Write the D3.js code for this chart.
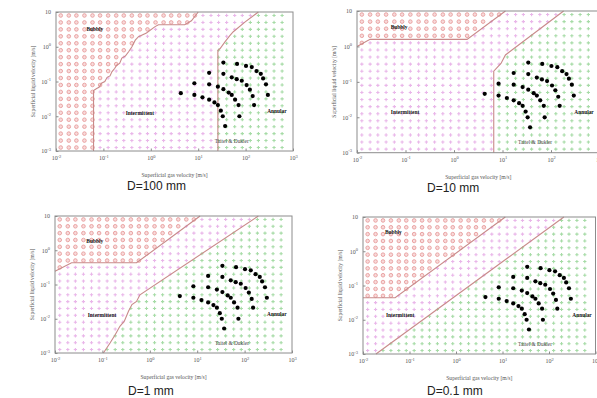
<!DOCTYPE html>
<html>
<head>
<meta charset="utf-8">
<script src="https://cdn.jsdelivr.net/npm/d3@7"></script>
<style>
  body { margin: 0; background: #fff; }
  svg { display: block; }
</style>
</head>
<body>
<svg id="chart" width="597" height="398"></svg>
<script>
// ---- data -------------------------------------------------------------
const panelTitles = ["D=100 mm", "D=10 mm", "D=1 mm", "D=0.1 mm"];

const gasTicks = [0.01, 0.1, 1, 10, 100, 1000];
const gasTickExp = ["-2", "-1", "0", "1", "2", "3"];
const liquidTicks = [10, 1, 0.1, 0.01, 0.001];
const liquidTickExp = ["", "0", "-1", "-2", "-3"];

const regimeNames = ["Bubbly", "Intermittent", "Annular", "Taitel & Dukler"];

// lattice on which the regime map was evaluated (log10 of velocity)
const latticeGasExp = [-1.90, -1.73, -1.57, -1.40, -1.23, -1.07, -0.90, -0.73, -0.57, -0.40,
  -0.23, -0.07, 0.10, 0.27, 0.43, 0.60, 0.77, 0.93, 1.10, 1.27, 1.43, 1.60, 1.77, 1.93,
  2.10, 2.27, 2.43, 2.60, 2.77];
const latticeLiquidExp = [0.9, 0.7, 0.5, 0.3, 0.1, -0.1, -0.3, -0.5, -0.7, -0.9, -1.1,
  -1.3, -1.5, -1.7, -1.9, -2.1, -2.3, -2.5, -2.7, -2.9];

// measured operating points [jG, jL] in m/s, one array per mass flux
const fluxSeries1 = [[34, 0.35], [66, 0.32], [102, 0.28], [135, 0.26], [170, 0.20],
  [209, 0.166], [234, 0.123], [269, 0.083], [295, 0.041]];
const fluxSeries2 = [[17, 0.178], [34, 0.166], [51, 0.132], [65, 0.117], [83, 0.105],
  [105, 0.079], [123, 0.058], [141, 0.038], [151, 0.021]];
const fluxSeries3 = [[8.3, 0.089], [17, 0.083], [26, 0.071], [34, 0.060], [44, 0.048],
  [51, 0.041], [60, 0.030], [71, 0.021], [74, 0.010]];
const fluxSeries4 = [[4.3, 0.046], [8.3, 0.041], [12.3, 0.035], [17, 0.030], [22, 0.025],
  [26, 0.021], [30, 0.0145], [33, 0.010], [37, 0.0052]];

// bubbly / intermittent transition, per pipe diameter [jG, jL]
const bubblyEdge100 = [[0.062, 0.001], [0.062, 0.055], [0.072, 0.063], [0.081, 0.068],
  [0.091, 0.089], [0.107, 0.1], [0.12, 0.132], [0.138, 0.145], [0.151, 0.19], [0.174, 0.24],
  [0.19, 0.295], [0.22, 0.33], [0.245, 0.47], [0.29, 0.54], [0.34, 0.72], [0.40, 1.0],
  [0.47, 1.55], [0.55, 1.95], [0.81, 2.5], [1.23, 3.8], [1.45, 4.3], [5.2, 4.3],
  [7.2, 5.6], [10, 10]];
const bubblyEdge10 = [[0.01, 1.0], [0.0186, 1.58], [1.86, 1.58], [11.5, 10]];
const bubblyEdge1 = [[0.01, 0.245], [0.0224, 0.43], [0.525, 0.43], [11.5, 10]];
const bubblyEdge01 = [[0.01, 0.0437], [0.049, 0.0437], [11.5, 10]];

// intermittent / annular transition, per pipe diameter [jG, jL]
const annularEdge100 = [[186, 10], [98, 5.2], [55, 2.7], [46, 2.05], [37, 1.4],
  [29, 0.89], [26, 0.78], [26, 0.001]];
const annularEdge10 = [[182, 10], [11.5, 0.575], [9.3, 0.33], [6.6, 0.20], [6.6, 0.001]];
const annularEdge1 = [[195, 10], [0.62, 0.05], [0.525, 0.032], [0.42, 0.026],
  [0.355, 0.0166], [0.29, 0.0085], [0.234, 0.006], [0.186, 0.0034], [0.145, 0.00195],
  [0.105, 0.001]];
const annularEdge01 = [[209, 10], [0.019, 0.001]];

// ---- layout -----------------------------------------------------------
const panels = [
  { title: panelTitles[0], bubbly: bubblyEdge100, annular: annularEdge100,
    box: { left: 56, top: 12, width: 237, height: 139 }, titleAt: [127, 190],
    tags: [[0.066, 3.2], [0.59, 0.0123], [457, 0.014], [51, 0.00195]] },
  { title: panelTitles[1], bubbly: bubblyEdge10, annular: annularEdge10,
    box: { left: 357, top: 11, width: 242.5, height: 141.7 }, titleAt: [427, 192],
    tags: [[0.074, 3.5], [0.098, 0.014], [479, 0.014], [47, 0.002]] },
  { title: panelTitles[2], bubbly: bubblyEdge1, annular: annularEdge1,
    box: { left: 55, top: 216, width: 237, height: 137 }, titleAt: [128, 395],
    tags: [[0.069, 1.86], [0.098, 0.0129], [479, 0.0138], [54, 0.00195]] },
  { title: panelTitles[3], bubbly: bubblyEdge01, annular: annularEdge01,
    box: { left: 363, top: 217, width: 232.5, height: 137 }, titleAt: [427, 395],
    tags: [[0.045, 3.6], [0.063, 0.0138], [513, 0.0138], [50, 0.00195]] }
];

const measured = [fluxSeries1, fluxSeries2, fluxSeries3, fluxSeries4];

const COLORS = {
  bubbly: "#eaa4a4",
  bubblyFill: "#f8dada",
  intermittent: "#e9b6e9",
  annular: "#a6dba6",
  edge: "#c98a8a",
  frame: "#8c8c8c",
  text: "#222"
};
const SERIF = "'Liberation Serif','DejaVu Serif',serif";

const svg = d3.select("#chart");

// writes "10" with a raised exponent into a text element
function powerLabel(sel, exp, size) {
  sel.append("tspan").text("10");
  if (exp !== "") {
    sel.append("tspan").attr("dy", -size * 0.45).attr("font-size", size * 0.75).text(exp);
  }
}

const lg = v => Math.log10(v);

panels.forEach(p => {
  const b = p.box;
  const x = d3.scaleLog().domain([0.01, 1000]).range([b.left, b.left + b.width]);
  const y = d3.scaleLog().domain([0.001, 10]).range([b.top + b.height, b.top]);
  const g = svg.append("g");

  // regime polygons in log space, closed past the frame corners
  const bubblyPoly = p.bubbly.map(d => [lg(d[0]), lg(d[1])]).concat([[-3, 2], [-3, -4]]);
  const annularPoly = p.annular.map(d => [lg(d[0]), lg(d[1])]).concat([[4, -4], [4, 2]]);

  const lattice = [];
  latticeLiquidExp.forEach(ly => latticeGasExp.forEach(lx => {
    let regime = "intermittent";
    if (d3.polygonContains(bubblyPoly, [lx, ly])) regime = "bubbly";
    else if (d3.polygonContains(annularPoly, [lx, ly])) regime = "annular";
    lattice.push({ g: Math.pow(10, lx), l: Math.pow(10, ly), regime });
  }));

  // bubbly markers: small open circles
  g.append("g").selectAll("circle")
    .data(lattice.filter(d => d.regime === "bubbly"))
    .join("circle")
    .attr("cx", d => x(d.g)).attr("cy", d => y(d.l))
    .attr("r", 1.8)
    .attr("fill", COLORS.bubblyFill)
    .attr("stroke", COLORS.bubbly).attr("stroke-width", 1);

  // intermittent and annular markers: plus signs
  const plus = d3.symbol().type(d3.symbolCross).size(6);
  g.append("g").selectAll("path")
    .data(lattice.filter(d => d.regime !== "bubbly"))
    .join("path")
    .attr("transform", d => `translate(${x(d.g)},${y(d.l)})`)
    .attr("d", plus)
    .attr("fill", d => d.regime === "annular" ? COLORS.annular : COLORS.intermittent);

  // transition lines
  const line = d3.line().x(d => x(d[0])).y(d => y(d[1]));
  [p.bubbly, p.annular].forEach(edge => {
    g.append("path").attr("d", line(edge))
      .attr("fill", "none").attr("stroke", COLORS.edge).attr("stroke-width", 1.1);
  });

  // frame
  g.append("rect")
    .attr("x", b.left).attr("y", b.top).attr("width", b.width).attr("height", b.height)
    .attr("fill", "none").attr("stroke", COLORS.frame).attr("stroke-width", 1);

  // axes
  const xAxis = g.append("g").attr("transform", `translate(0,${b.top + b.height})`)
    .call(d3.axisBottom(x).tickValues(gasTicks).tickSize(-2.5).tickPadding(5).tickFormat(() => ""));
  xAxis.select(".domain").remove();
  xAxis.selectAll(".tick line").attr("stroke", COLORS.frame);
  xAxis.selectAll(".tick text")
    .attr("font-family", SERIF).attr("font-size", 6).attr("fill", "#555")
    .each(function (d, i) { powerLabel(d3.select(this), gasTickExp[i], 6); });

  const yAxis = g.append("g").attr("transform", `translate(${b.left},0)`)
    .call(d3.axisLeft(y).tickValues(liquidTicks).tickSize(-2.5).tickPadding(5).tickFormat(() => ""));
  yAxis.select(".domain").remove();
  yAxis.selectAll(".tick line").attr("stroke", COLORS.frame);
  yAxis.selectAll(".tick text")
    .attr("font-family", SERIF).attr("font-size", 6).attr("fill", "#555")
    .each(function (d, i) { powerLabel(d3.select(this), liquidTickExp[i], 6); });

  // axis titles
  g.append("text")
    .attr("x", b.left + b.width / 2).attr("y", b.top + b.height + 26)
    .attr("text-anchor", "middle").attr("font-family", SERIF).attr("font-size", 5.6)
    .attr("fill", "#555").text("Superficial gas velocity [m/s]");
  g.append("text")
    .attr("transform", `translate(${b.left - 21},${b.top + b.height / 2}) rotate(-90)`)
    .attr("text-anchor", "middle").attr("font-family", SERIF).attr("font-size", 5.6)
    .attr("fill", "#555").text("Superficial liquid velocity [m/s]");

  // measured points
  measured.forEach(series => {
    g.append("g").selectAll("circle").data(series).join("circle")
      .attr("cx", d => x(d[0])).attr("cy", d => y(d[1]))
      .attr("r", 2.1).attr("fill", "#000");
  });

  // regime names
  p.tags.forEach((t, i) => {
    g.append("text")
      .attr("x", x(t[0])).attr("y", y(t[1]) + 2)
      .attr("text-anchor", "middle").attr("font-family", SERIF)
      .attr("font-size", 5.4).attr("font-weight", i < 3 ? "bold" : "normal")
      .attr("fill", i < 3 ? "#111" : "#444")
      .text(regimeNames[i]);
  });

  // diameter caption
  g.append("text")
    .attr("x", p.titleAt[0]).attr("y", p.titleAt[1])
    .attr("font-family", "'Liberation Sans', Arial, sans-serif").attr("font-size", 12)
    .attr("fill", COLORS.text).text(p.title);
});
</script>
</body>
</html>
